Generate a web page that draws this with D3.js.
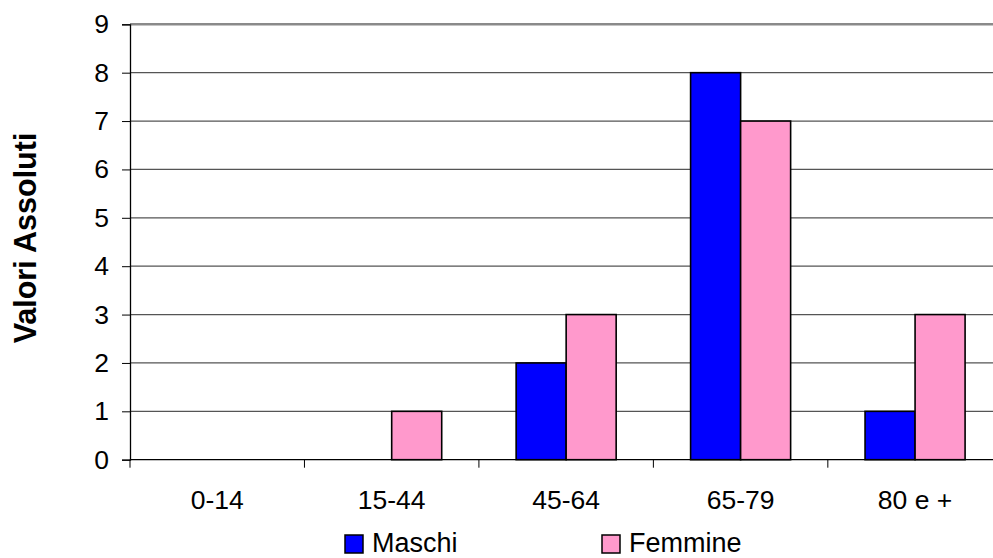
<!DOCTYPE html>
<html>
<head>
<meta charset="utf-8">
<script src="https://cdn.jsdelivr.net/npm/d3@7"></script>
<style>
  html, body { margin: 0; padding: 0; background: #fff; overflow: hidden; }
  text { font-family: "Liberation Sans", Arial, sans-serif; fill: #000; }
</style>
</head>
<body>
<svg id="chart" width="993" height="558"></svg>
<script>
// Age groups and counts per sex
const categories = ["0-14", "15-44", "45-64", "65-79", "80 e +"];
const seriesNames = ["Maschi", "Femmine"];
const maschi = [0, 0, 2, 8, 1];
const femmine = [0, 1, 3, 7, 3];
const yTicks = [0, 1, 2, 3, 4, 5, 6, 7, 8, 9];
const yTitle = "Valori Assoluti";
const colors = { Maschi: "#0000FF", Femmine: "#FF99CC" };

const svg = d3.select("#chart");

const plotLeft = 130, plotRight = 1002.3, plotTop = 24.3, plotBottom = 459.7;

const x = d3.scaleBand().domain(categories).range([plotLeft, plotRight]).padding(0);
const xs = d3.scaleBand().domain(seriesNames).range([0, x.bandwidth()])
  .paddingInner(0).paddingOuter(0.744);
const y = d3.scaleLinear().domain([0, 9]).range([plotBottom, plotTop]);

// horizontal gridlines
svg.append("g")
  .selectAll("line")
  .data(yTicks.filter(d => d > 0 && d < 9))
  .join("line")
  .attr("x1", plotLeft).attr("x2", plotRight)
  .attr("y1", d => y(d)).attr("y2", d => y(d))
  .attr("stroke", "#555").attr("stroke-width", 1.2);

// top border of plot area
svg.append("line")
  .attr("x1", plotLeft).attr("x2", plotRight)
  .attr("y1", y(9)).attr("y2", y(9))
  .attr("stroke", "#8a8a8a").attr("stroke-width", 2.4);

// bars
const rows = categories.map((c, i) => ({ cat: c, values: [
  { key: "Maschi", v: maschi[i] }, { key: "Femmine", v: femmine[i] }] }));

const groups = svg.append("g").selectAll("g")
  .data(rows).join("g")
  .attr("transform", d => `translate(${x(d.cat)},0)`);

groups.selectAll("rect")
  .data(d => d.values.filter(e => e.v > 0))
  .join("rect")
  .attr("x", d => xs(d.key))
  .attr("width", xs.bandwidth())
  .attr("y", d => y(d.v))
  .attr("height", d => y(0) - y(d.v))
  .attr("fill", d => colors[d.key])
  .attr("stroke", "#000").attr("stroke-width", 1.6);

// y axis
const yAxis = d3.axisLeft(y).tickValues(yTicks).tickSize(8).tickPadding(13)
  .tickFormat(d3.format("d"));
const gy = svg.append("g").attr("transform", `translate(${plotLeft},0)`).call(yAxis);
gy.select(".domain").attr("stroke", "#000").attr("stroke-width", 1.3);
gy.selectAll(".tick line").attr("stroke", "#000");
gy.selectAll(".tick text").attr("font-size", 26.5).attr("font-family", "Liberation Sans, Arial, sans-serif");

// x axis: ticks at category boundaries
const xAxisLine = svg.append("g");
xAxisLine.append("line")
  .attr("x1", plotLeft).attr("x2", plotRight)
  .attr("y1", plotBottom).attr("y2", plotBottom)
  .attr("stroke", "#000").attr("stroke-width", 1.3);
const boundaries = categories.map(c => x(c)).concat([plotRight]);
xAxisLine.selectAll("line.tk").data(boundaries).join("line")
  .attr("class", "tk")
  .attr("x1", d => d).attr("x2", d => d)
  .attr("y1", plotBottom).attr("y2", plotBottom + 8)
  .attr("stroke", "#000").attr("stroke-width", 1);
xAxisLine.selectAll("text").data(categories).join("text")
  .attr("x", d => x(d) + x.bandwidth() / 2)
  .attr("y", 508.5)
  .attr("text-anchor", "middle")
  .attr("font-size", 26.5)
  .text(d => d);

// y axis title
svg.append("text")
  .attr("transform", `translate(36,238) rotate(-90)`)
  .attr("text-anchor", "middle")
  .attr("font-size", 30.5)
  .attr("font-weight", "bold")
  .text(yTitle);

// legend
const legendPos = [{ key: "Maschi", x: 345 }, { key: "Femmine", x: 602 }];
const lg = svg.append("g").selectAll("g").data(legendPos).join("g")
  .attr("transform", d => `translate(${d.x},535)`);
lg.append("rect")
  .attr("width", 18).attr("height", 18)
  .attr("fill", d => colors[d.key])
  .attr("stroke", "#000").attr("stroke-width", 1.5);
lg.append("text")
  .attr("x", 27).attr("y", 17)
  .attr("font-size", 27)
  .text(d => d.key);
</script>
</body>
</html>
